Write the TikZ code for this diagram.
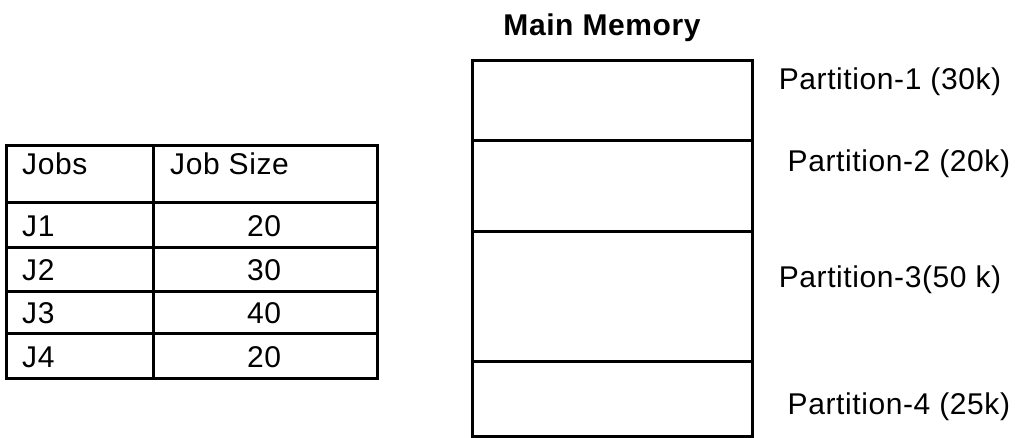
\documentclass[tikz,border=0pt]{standalone}
\usepackage{fontspec}
\setmainfont{Liberation Sans}[LetterSpace=2]
\begin{document}
\begin{tikzpicture}[x=1pt,y=-1pt,
  label text/.style={font=\fontsize{30}{34}\selectfont, inner sep=0pt, anchor=base west},
  cell num/.style={font=\fontsize{30}{34}\selectfont, inner sep=0pt, anchor=base},
  title text/.style={font=\fontsize{30}{34}\selectfont\bfseries, inner sep=0pt, anchor=base},
  frame/.style={line width=3pt, line cap=rect}]
  \useasboundingbox (0,0) rectangle (1015,438);

  % jobs table
  \draw[frame] (6.5,146) rectangle (377,378);
  \draw[frame] (153,146) -- (153,378);
  \foreach \yy in {203,248,292,334} \draw[frame] (6.5,\yy) -- (377,\yy);
  \node[label text] (hjobs) at (22,175) {Jobs};
  \node[label text] (hsize) at (170,175) {Job Size};
  \node[label text] (j1) at (22,236.5) {J1};
  \node[label text] (j2) at (22,281) {J2};
  \node[label text] (j3) at (22,324) {J3};
  \node[label text] (j4) at (22,367) {J4};
  \node[cell num] (s1) at (264,236.5) {20};
  \node[cell num] (s2) at (264,281) {30};
  \node[cell num] (s3) at (264,324) {40};
  \node[cell num] (s4) at (264,367) {20};

  % main memory with its four partitions
  \node[title text] (mm) at (602,35.5) {Main Memory};
  \draw[frame] (472,60.7) rectangle (752,436.5);
  \foreach \yy in {141,232,362} \draw[frame] (472,\yy) -- (752,\yy);
  \node[label text] (p1) at (778.6,89.5) {Partition-1 (30k)};
  \node[label text] (p2) at (787.5,171.5) {Partition-2 (20k)};
  \node[label text] (p3) at (778.6,288) {Partition-3(50 k)};
  \node[label text] (p4) at (787.5,414) {Partition-4 (25k)};
\end{tikzpicture}
\end{document}
